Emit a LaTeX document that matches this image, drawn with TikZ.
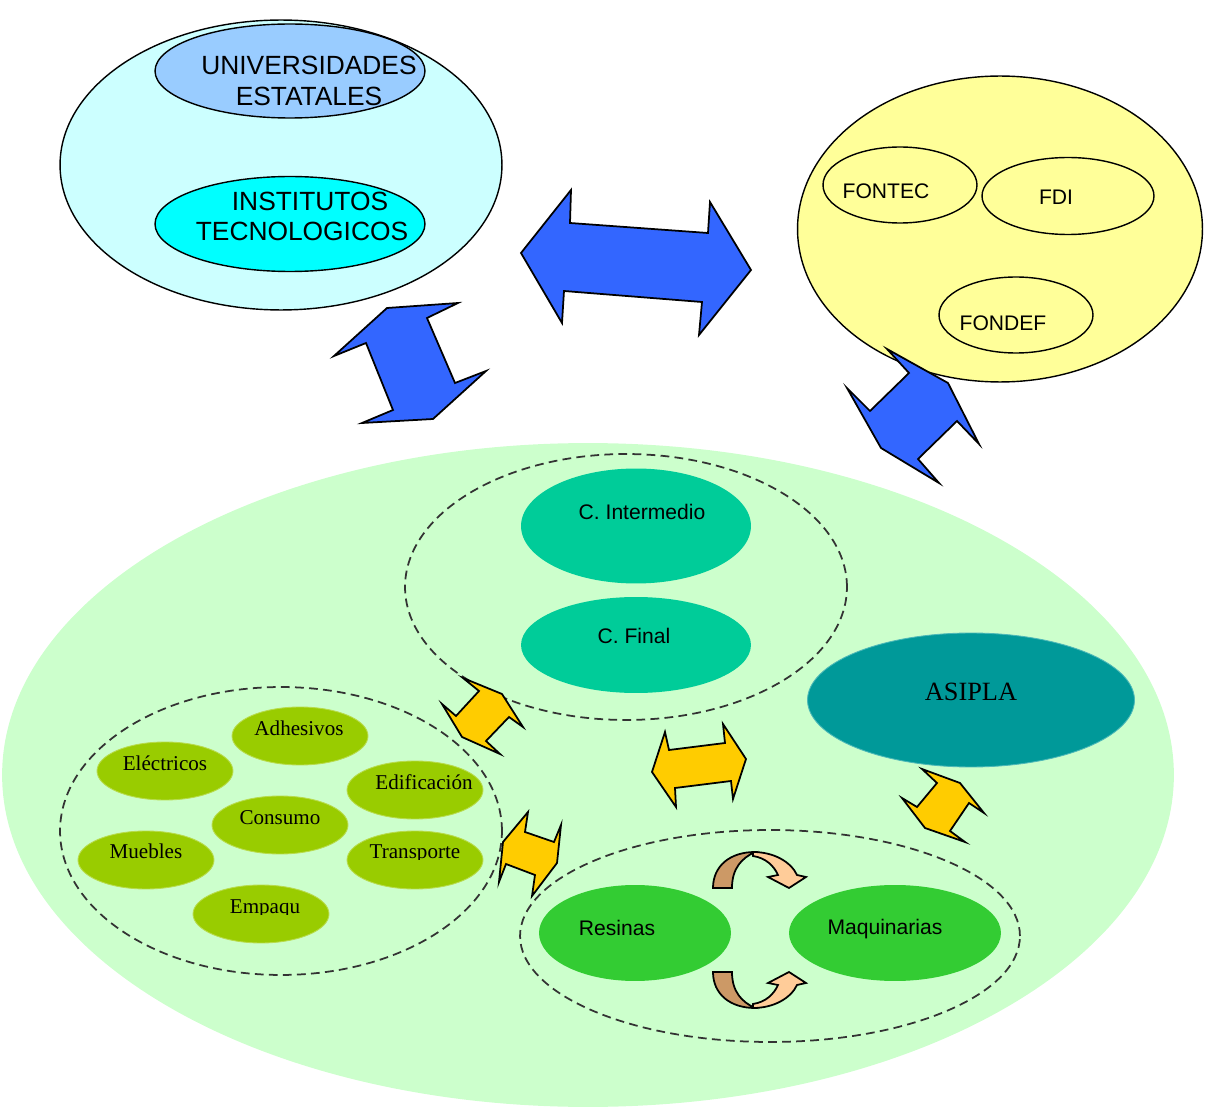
\documentclass[tikz,border=0pt]{standalone}
\usepackage{fontspec}
\setmainfont{Liberation Serif}
\setsansfont{Liberation Sans}
\usetikzlibrary{shapes.geometric}

\definecolor{celeste}{HTML}{CCFFFF}
\definecolor{univcol}{HTML}{99CCFF}
\definecolor{instcol}{HTML}{00FFFF}
\definecolor{amarillo}{HTML}{FFFF99}
\definecolor{verdefondo}{HTML}{CCFFCC}
\definecolor{verdeagua}{HTML}{00CC99}
\definecolor{turquesa}{HTML}{009999}
\definecolor{oliva}{HTML}{99CC00}
\definecolor{verde}{HTML}{33CC33}
\definecolor{azul}{HTML}{3366FF}
\definecolor{oro}{HTML}{FFCC00}
\definecolor{cafe}{HTML}{CC9966}
\definecolor{durazno}{HTML}{FFCC99}
\definecolor{gris}{HTML}{333333}

\tikzset{
  oval/.style={ellipse, inner sep=0pt},
  borde/.style={oval, draw=black, line width=0.8pt},
  grupo/.style={oval, draw=gris, line width=1pt, dash pattern=on 5pt off 3pt},
  sector/.style={oval, fill=oliva, draw=oliva!70!white, line width=0.5pt, minimum width=2.72cm, minimum height=1.16cm},
  etiq/.style={anchor=base, font=\sffamily\fontsize{12}{14}\selectfont},
  etiqgr/.style={anchor=base, font=\sffamily\fontsize{15}{17}\selectfont},
  etiqrm/.style={anchor=base, font=\rmfamily\fontsize{12}{14}\selectfont},
  flechaazul/.style={draw=black, line width=1pt, fill=azul},
  flechaoro/.style={draw=black, line width=1pt, fill=oro},
  curvaatras/.style={draw=black, line width=1pt, fill=cafe},
  curvafrente/.style={draw=black, line width=1pt, fill=durazno}
}

\begin{document}
\begin{tikzpicture}[x=0.02cm, y=-0.02cm]
\useasboundingbox (0,0) rectangle (1205,1108);

\node[oval, fill=verdefondo, minimum width=23.44cm, minimum height=13.28cm] (cadena) at (588,775) {};

\node[borde, fill=celeste, minimum width=8.84cm, minimum height=5.8cm] (academia) at (281,165) {};
\node[borde, fill=univcol, minimum width=5.4cm, minimum height=1.88cm] (univ) at (290,71) {};
\node[borde, fill=instcol, minimum width=5.4cm, minimum height=1.9cm] (inst) at (290,224) {};
\node[etiqgr] (univa) at (309,75) {UNIVERSIDADES};
\node[etiqgr] (univb) at (309,106) {ESTATALES};
\node[etiqgr] (insta) at (310,211) {INSTITUTOS};
\node[etiqgr] (instb) at (302,241) {TECNOLOGICOS};

\node[borde, fill=amarillo, minimum width=8.1cm, minimum height=6.12cm] (fondos) at (1000,229) {};
\node[borde, minimum width=3.08cm, minimum height=1.52cm] (fontec) at (900,185) {};
\node[borde, minimum width=3.44cm, minimum height=1.54cm] (fdi) at (1068,196) {};
\node[borde, minimum width=3.08cm, minimum height=1.52cm] (fondef) at (1016,315) {};
\node[etiq] (tfontec) at (886,199) {FONTEC};
\node[etiq] (tfdi) at (1056,205) {FDI};
\node[etiq] (tfondef) at (1003,331) {FONDEF};

\draw[flechaazul] (521,253) -- (571,190) -- (570,223) -- (708,233) -- (710,202) -- (751,270)
  -- (699,335) -- (702,302) -- (564,291) -- (562,323) -- cycle;
\draw[flechaazul] (387,308) -- (458,303) -- (427,318) -- (455,383) -- (486,371) -- (433,419)
  -- (362,423) -- (393,410) -- (366,343) -- (334,356) -- cycle;
\draw[flechaazul] (887,349) -- (909,373) -- (870,411) -- (847,388) -- (881,448) -- (939,483)
  -- (918,459) -- (957,421) -- (979,444) -- (948,383) -- cycle;

\node[grupo, minimum width=8.84cm, minimum height=5.32cm] (consumo) at (626,587) {};
\node[oval, fill=verdeagua, minimum width=4.6cm, minimum height=2.3cm] (interm) at (636,526) {};
\node[oval, fill=verdeagua, minimum width=4.6cm, minimum height=1.92cm] (final) at (636,645) {};
\node[etiq] (tinterm) at (642,520) {C. Intermedio};
\node[etiq] (tfinal) at (634,643) {C. Final};

\node[oval, fill=turquesa, draw=turquesa!70!white, line width=0.5pt, minimum width=6.54cm, minimum height=2.68cm] (asipla) at (971,700) {};
\node[anchor=base, font=\rmfamily\fontsize{15}{17}\selectfont] (tasipla) at (971,700) {ASIPLA};

\node[grupo, minimum width=8.84cm, minimum height=5.76cm] (sectores) at (281,831) {};
\node[sector] (adhesivos) at (300,736) {};
\node[sector] (electricos) at (165,771) {};
\node[sector] (edificacion) at (415,790) {};
\node[sector] (consumo2) at (280,825) {};
\node[sector] (muebles) at (146,860) {};
\node[sector] (transporte) at (415,860) {};
\node[sector] (empaque) at (261,914) {};
\node[etiqrm] (tadhesivos) at (299,735) {Adhesivos};
\node[etiqrm] (telectricos) at (165,770) {Eléctricos};
\node[etiqrm] (tedificacion) at (424,789) {Edificación};
\node[etiqrm] (tconsumo) at (280,824) {Consumo};
\node[etiqrm] (tmuebles) at (146,858) {Muebles};
\begin{scope}
\clip (340,820) rectangle (490,859.5);
\node[etiqrm] (ttransporte) at (415,858) {Transporte};
\end{scope}
\begin{scope}
\clip (200,880) rectangle (330,914);
\node[etiqrm] (tempaque) at (265,913) {Empaqu};
\end{scope}

\node[grupo, minimum width=10cm, minimum height=4.24cm] (insumos) at (770,936) {};
\node[oval, fill=verde, minimum width=3.84cm, minimum height=1.92cm] (resinas) at (635,933) {};
\node[oval, fill=verde, minimum width=4.24cm, minimum height=1.92cm] (maquinas) at (895,933) {};
\node[etiq] (tresinas) at (617,935) {Resinas};
\node[etiq] (tmaquinas) at (885,934) {Maquinarias};

\draw[flechaoro] (463,678) -- (479,691) -- (456,716) -- (442,704) -- (462,737) -- (500,754)
  -- (486,741) -- (509,717) -- (523,727) -- (502,694) -- cycle;
\draw[flechaoro] (652,772) -- (665,732) -- (669,750) -- (725,743) -- (723,724) -- (746,759)
  -- (733,799) -- (731,781) -- (675,788) -- (676,807) -- cycle;
\draw[flechaoro] (528,812) -- (525,832) -- (554,842) -- (561,825) -- (557,863) -- (532,896)
  -- (535,875) -- (506,864) -- (499,882) -- (503,842) -- cycle;
\draw[flechaoro] (922,769) -- (937,783) -- (917,807) -- (902,798) -- (925,828) -- (965,842)
  -- (950,831) -- (969,803) -- (984,813) -- (960,783) -- cycle;

\foreach \s/\o in {1/0, -1/1860} {
  \begin{scope}[shift={(0,\o)}, yscale=\s]
    \draw[curvaatras] (713,888) .. controls (713,866) and (730,852) .. (755,852)
      .. controls (742,858) and (732,868) .. (732,888) -- cycle;
    \draw[curvafrente] (753,852) .. controls (774,852) and (791,862) .. (797,875) -- (806,877)
      -- (789,888) -- (768,877) -- (778,875) .. controls (774,866) and (766,858) .. (753,856) -- cycle;
  \end{scope}
}
\end{tikzpicture}
\end{document}
